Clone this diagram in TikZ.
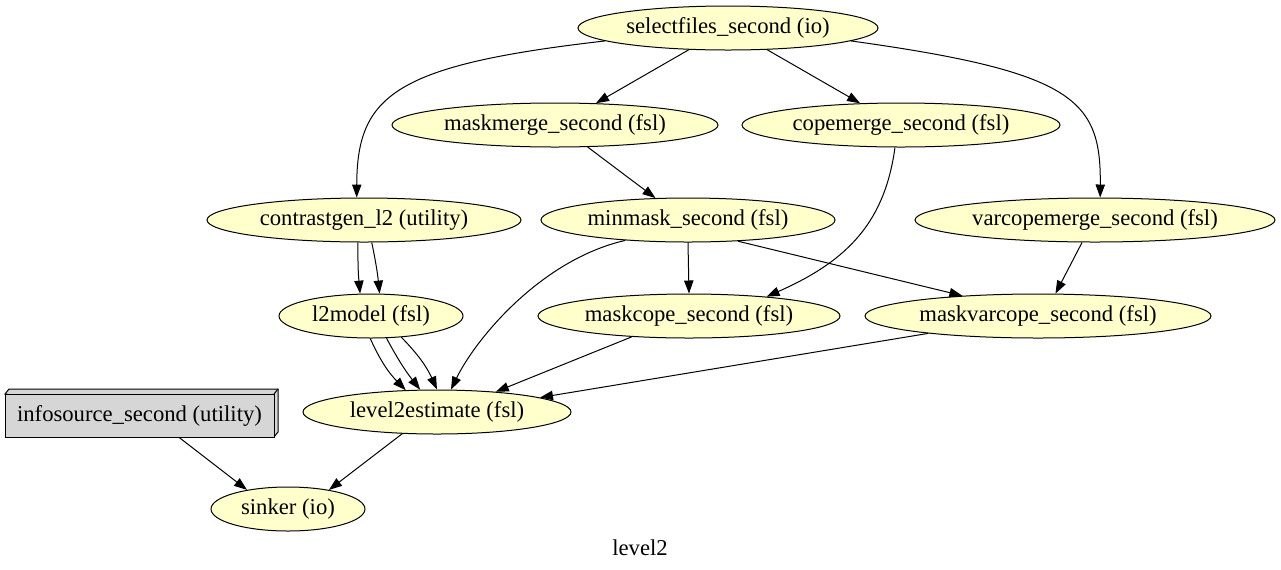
\documentclass[tikz,border=0pt]{standalone}
\usepackage{fontspec}
\setmainfont{Liberation Serif}
\usetikzlibrary{shapes.geometric,arrows.meta}
\definecolor{nodefill}{HTML}{FFFFCC}
\definecolor{boxfill}{HTML}{D6D6D6}
\newcommand{\ntext}[1]{\makebox[0pt]{#1}}
\begin{document}
\begin{tikzpicture}[x=0.75pt,y=-0.75pt,
    every node/.style={font=\fontsize{17}{20}\selectfont},
    proc/.style={ellipse,draw,fill=nodefill,line width=0.75pt,inner sep=0pt,minimum height=33pt},
    edge/.style={line width=0.75pt,-{Triangle[length=9.75pt,width=7pt]}}]
    \useasboundingbox (0,0) rectangle (1281,569);
    % nodes
    \node[proc,minimum width=225pt] (sel) at (728,28) {\ntext{selectfiles\_second (io)}};
    \node[proc,minimum width=244.5pt] (mmerge) at (555,125) {\ntext{maskmerge\_second (fsl)}};
    \node[proc,minimum width=238.5pt] (cmerge) at (901,125) {\ntext{copemerge\_second (fsl)}};
    \node[proc,minimum width=235.5pt] (cgen) at (364,220) {\ntext{contrastgen\_l2 (utility)}};
    \node[proc,minimum width=220.5pt] (minm) at (688,220) {\ntext{minmask\_second (fsl)}};
    \node[proc,minimum width=270pt] (vmerge) at (1095,220) {\ntext{varcopemerge\_second (fsl)}};
    \node[proc,minimum width=138pt] (l2m) at (371,316) {\ntext{l2model (fsl)}};
    \node[proc,minimum width=226.5pt] (mcope) at (689,316) {\ntext{maskcope\_second (fsl)}};
    \node[proc,minimum width=259.5pt] (mvcope) at (1038,316) {\ntext{maskvarcope\_second (fsl)}};
    \node[proc,minimum width=201pt] (est) at (437,412) {\ntext{level2estimate (fsl)}};
    \node[proc,minimum width=115.5pt] (sink) at (288,509) {\ntext{sinker (io)}};
    \draw[fill=boxfill,line width=0.75pt] (5,394) -- ++(4,-5) -- ++(269,0) -- ++(0,43) -- ++(-4,5) -- cycle;
    \draw[line width=0.75pt] (274,394) -- ++(4,-5);
    \node[draw,fill=boxfill,line width=0.75pt,minimum width=201.75pt,minimum height=32.25pt,inner sep=0pt] (info) at (139.5,415.5) {\ntext{infosource\_second (utility)}};
    \node (title) at (640,548) {level2};
    % edges
    \draw[edge] (sel.186) .. controls (395,65) and (357,95) .. (cgen.108);
    \draw[edge] (sel.209) -- (mmerge.28);
    \draw[edge] (sel.331) -- (cmerge.152);
    \draw[edge] (sel.354) .. controls (1075,72) and (1101,100) .. (vmerge.77);
    \draw[edge] (mmerge.326) -- (minm.146);
    \draw[edge] (cmerge.255) .. controls (885,220) and (850,260) .. (mcope.14);
    \draw[edge] (cgen.255) to[bend right=3] (l2m.116);
    \draw[edge] (cgen.289) to[bend left=3] (l2m.69);
    \draw[edge] (minm.198) .. controls (540,260) and (475,340) .. (est.58);
    \draw[edge] (minm.270) -- (mcope.90);
    \draw[edge] (minm.337) -- (mvcope.165);
    \draw[edge] (vmerge.240) -- (mvcope.52);
    \draw[edge] (l2m.268) to[bend right=10] (est.145);
    \draw[edge] (l2m.305) to[bend right=5] (est.127);
    \draw[edge] (l2m.325) to[bend left=10] (est.90);
    \draw[edge] (mcope.200) -- (est.19);
    \draw[edge] (mvcope.189) -- (est.8);
    \draw[edge] (info.331) -- (sink.155);
    \draw[edge] (est.212) -- (sink.25);
\end{tikzpicture}
\end{document}
